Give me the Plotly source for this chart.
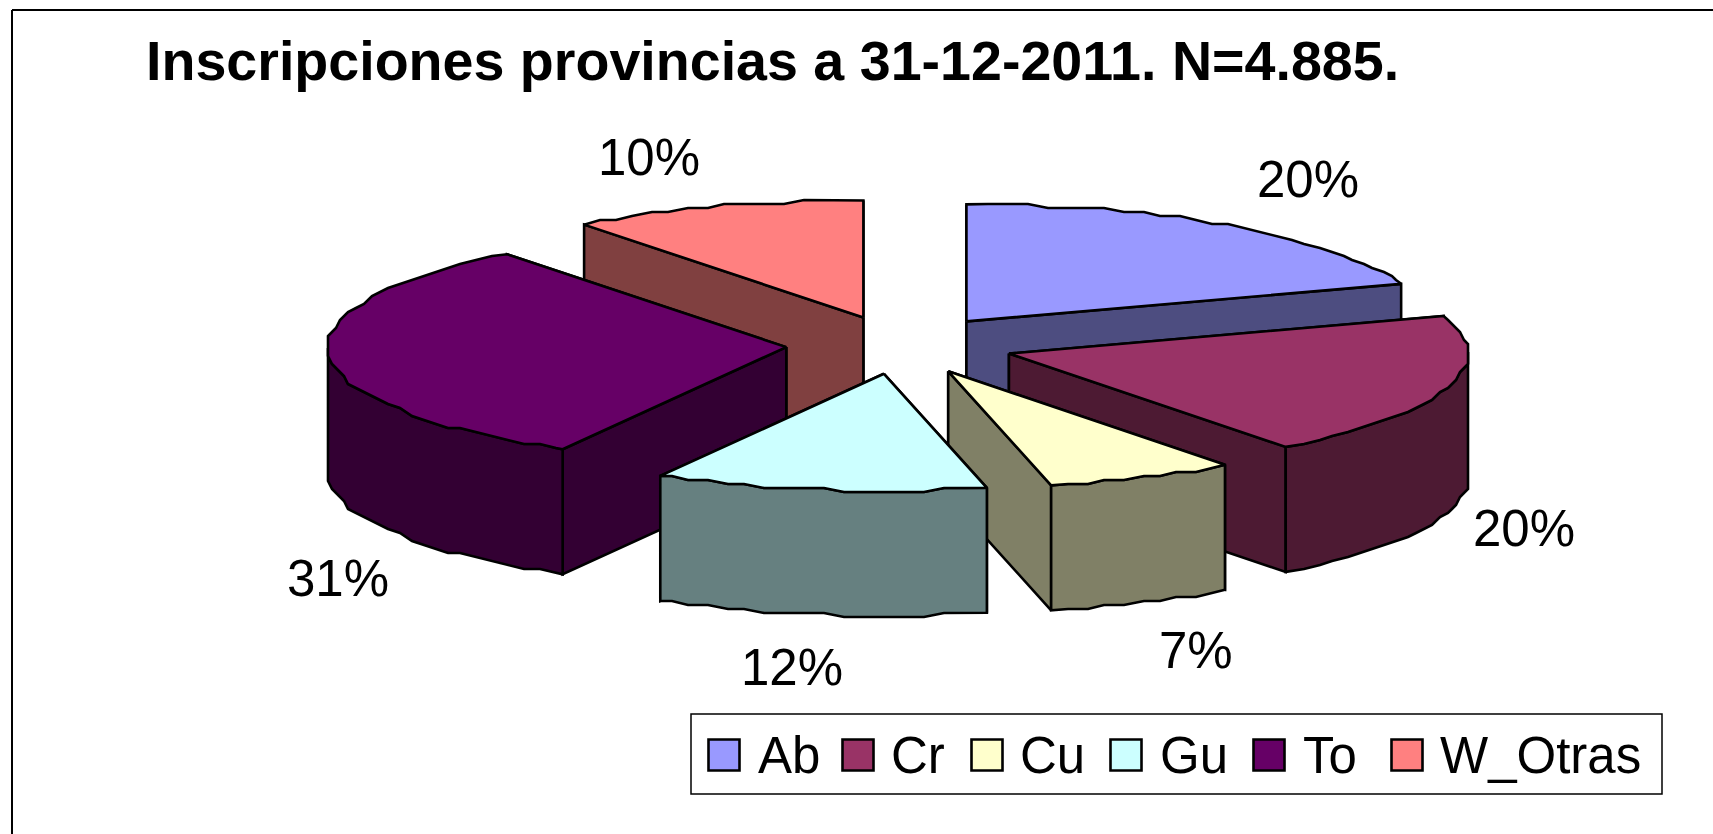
import numpy as np
import plotly.graph_objects as go

TITLE = "Inscripciones provincias a 31-12-2011. N=4.885."
categories = ["Ab", "Cr", "Cu", "Gu", "To", "W_Otras"]
percent_values = [19.8, 19.9, 6.7, 11.7, 31.49, 10.41]
top_colors = ["#9999FF", "#993366", "#FFFFCC", "#CCFFFF", "#660066", "#FF8080"]
side_colors = ["#4D4D80", "#4D1A33", "#808066", "#668080", "#330033", "#804040"]
label_text = ["20%", "20%", "7%", "12%", "31%", "10%"]
label_x = [1308, 1524, 1196, 792, 338, 649]
label_y = [179, 528, 650, 667, 578, 157]
legend_swatch_x = [724, 858, 987, 1126, 1269, 1407]
legend_text_x = [756, 889, 1018, 1158, 1301, 1438]
draw_order = [5, 0, 1, 2, 4, 3]

CX, CY, RX, RY, EXPLODE, DEPTH = 900, 345, 459, 117, 114, 125
QUANT = 4.0
STEP = 2.5

fractions = np.array(percent_values) / sum(percent_values)
ends = np.cumsum(fractions) * 360
starts = np.concatenate([[0], ends[:-1]])


def rim_point(apex, deg):
    r = np.radians(deg)
    return apex[0] + RX * np.sin(r), apex[1] - RY * np.cos(r)


def arc(apex, a, b):
    """Rim polyline with the stair-stepped wobble of the low-res original."""
    inner = np.arange(np.ceil(a / STEP), np.floor(b / STEP) + 1) * STEP
    inner = inner[(inner > a + 0.5) & (inner < b - 0.5)]
    degs = np.concatenate([[a], inner, [b]])
    xs, ys = rim_point(apex, degs)
    xs = np.round(xs / QUANT) * QUANT
    ys = np.round(ys / QUANT) * QUANT
    xs[0], ys[0] = rim_point(apex, a)
    xs[-1], ys[-1] = rim_point(apex, b)
    return degs, xs, ys


def poly(fig, xs, ys, color):
    xs, ys = list(xs), list(ys)
    fig.add_trace(go.Scatter(
        x=xs + [xs[0]], y=ys + [ys[0]], mode="lines", fill="toself",
        fillcolor=color, line=dict(color="black", width=2.6), hoverinfo="skip",
        showlegend=False))


fig = go.Figure()

for i in draw_order:
    a, b = starts[i], ends[i]
    mid = np.radians((a + b) / 2)
    apex = (CX + EXPLODE * np.sin(mid), CY - EXPLODE * np.cos(mid) * RY / RX)
    # radial faces: the one whose rim end is higher on the page goes first
    radials = sorted([a, b], key=lambda d: rim_point(apex, d)[1])
    for d in radials:
        rx_, ry_ = rim_point(apex, d)
        poly(fig, [apex[0], rx_, rx_, apex[0]],
             [apex[1], ry_, ry_ + DEPTH, apex[1] + DEPTH], side_colors[i])
    degs, xs, ys = arc(apex, a, b)
    # outer curved face, front half only, sharing the rim's own vertices
    front = (degs >= 90) & (degs <= 270)
    if front.sum() >= 2:
        fx, fy = xs[front], ys[front]
        poly(fig, np.concatenate([fx, fx[::-1]]),
             np.concatenate([fy, fy[::-1] + DEPTH]), side_colors[i])
    # top face
    poly(fig, np.concatenate([[apex[0]], xs]), np.concatenate([[apex[1]], ys]), top_colors[i])

# legend swatches
fig.add_trace(go.Scatter(
    x=legend_swatch_x, y=[755] * len(categories), mode="markers",
    marker=dict(symbol="square", size=31, color=top_colors,
                line=dict(color="black", width=2.6)),
    hoverinfo="skip", showlegend=False))

FONT = "Liberation Sans, Arial, sans-serif"
ann = [dict(x=772, y=61, text=f"<b>{TITLE}</b>", showarrow=False,
            font=dict(family=FONT, size=55.6, color="black"))]
for t, x, y in zip(label_text, label_x, label_y):
    ann.append(dict(x=x, y=y, text=t, showarrow=False,
                    font=dict(family=FONT, size=51, color="black")))
for t, x in zip(categories, legend_text_x):
    ann.append(dict(x=x, y=755, text=t, showarrow=False, xanchor="left",
                    font=dict(family=FONT, size=51, color="black")))

shapes = [
    dict(type="line", x0=12, y0=10, x1=1713, y1=10, line=dict(color="black", width=2)),
    dict(type="line", x0=12, y0=10, x1=12, y1=834, line=dict(color="black", width=2)),
    dict(type="rect", x0=691, y0=714, x1=1662, y1=794, line=dict(color="black", width=1.5)),
]

fig.update_layout(
    width=1713, height=834, margin=dict(l=0, r=0, t=0, b=0),
    paper_bgcolor="white", plot_bgcolor="white", showlegend=False,
    xaxis=dict(range=[0, 1713], visible=False, fixedrange=True),
    yaxis=dict(range=[834, 0], visible=False, fixedrange=True),
    annotations=ann, shapes=shapes)

fig.write_html("out.html", config={"displayModeBar": False},
               post_script="document.body.style.margin='0';document.documentElement.style.overflow='hidden';")
